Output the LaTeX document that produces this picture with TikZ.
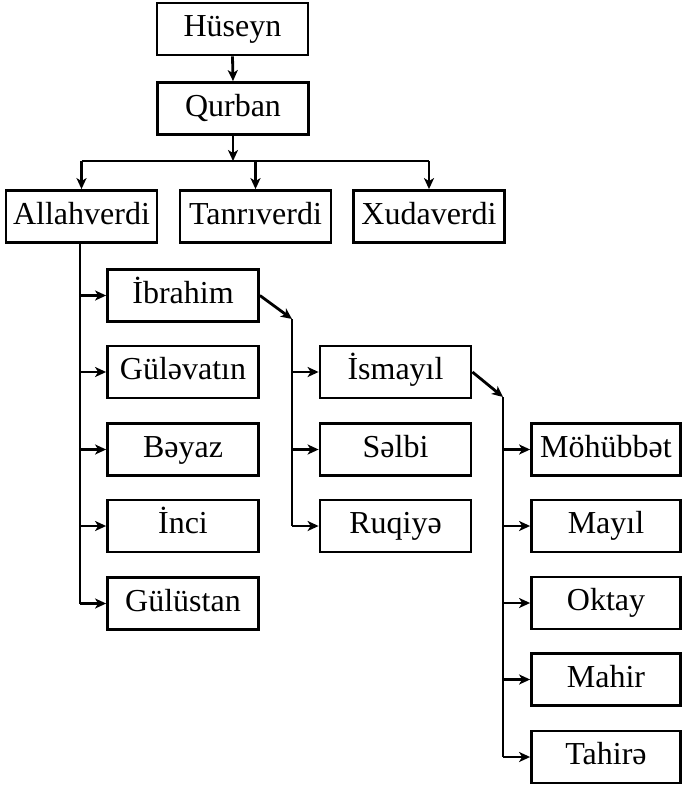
\documentclass[tikz,border=0pt]{standalone}
\usepackage{fontspec}
\setmainfont{Liberation Serif}
\usetikzlibrary{arrows.meta}
\tikzset{
  box/.style={draw, line width=2.8pt, minimum width=151pt, minimum height=52pt, inner sep=0pt,
    text height=21pt, text depth=6pt,
    font=\fontsize{32}{36}\selectfont, anchor=center},
  conn/.style={line width=2.8pt},
  arr/.style={conn, -{Stealth[length=11pt,width=10pt,inset=3pt]}}
}
\begin{document}
\begin{tikzpicture}[x=1pt,y=-1pt]
\useasboundingbox (0,0) rectangle (682,787);
% top
\node[box] (hus) at (232.5,29) {Hüseyn};
\node[box] (qur) at (233,108.5) {Qurban};
\node[box] (all) at (81.5,216.5) {Allahverdi};
\node[box] (tan) at (255.5,216.5) {Tanrıverdi};
\node[box] (xud) at (429,216.5) {Xudaverdi};
% left column
\node[box] (ibr) at (183,295.5) {İbrahim};
\node[box] (gul) at (183,372) {Güləvatın};
\node[box] (bey) at (183,449.5) {Bəyaz};
\node[box] (inc) at (183,526) {İnci};
\node[box] (gus) at (183,603.5) {Gülüstan};
% middle column
\node[box] (ism) at (395.5,372) {İsmayıl};
\node[box] (sel) at (395.5,449.5) {Səlbi};
\node[box] (ruq) at (395.5,526) {Ruqiyə};
% right column
\node[box, minimum width=149pt] (moh) at (606,449.5) {Möhübbət};
\node[box, minimum width=149pt] (may) at (606,526) {Mayıl};
\node[box, minimum width=149pt] (okt) at (606,603) {Oktay};
\node[box, minimum width=149pt] (mah) at (606,679.5) {Mahir};
\node[box, minimum width=149pt] (tah) at (606,757) {Tahirə};
% coordinates
\coordinate (bar) at (233,161);
\coordinate (barL) at (81.5,161);
\coordinate (barR) at (429,161);
\coordinate (tr1) at (80,243);
\coordinate (c1) at (292,319);
\coordinate (c2) at (503,397);
% connectors
\draw[arr] (hus.south) -- (qur.north);
\draw[arr] (qur.south) -- (bar);
\draw[conn] (barL) -- (barR);
\draw[arr] (barL) -- (all.north);
\draw[arr] (tan.north |- bar) -- (tan.north);
\draw[arr] (barR) -- (xud.north);
% Allahverdi children
\draw[conn] (tr1) -- (tr1 |- gus.west);
\foreach \n in {ibr,gul,bey,inc,gus}
  \draw[arr] (tr1 |- \n.west) -- (\n.west);
% Ibrahim children
\draw[arr] (ibr.east) -- (c1);
\draw[conn] (c1) -- (c1 |- ruq.west);
\foreach \n in {ism,sel,ruq}
  \draw[arr] (c1 |- \n.west) -- (\n.west);
% Ismayil children
\draw[arr] (ism.east) -- (c2);
\draw[conn] (c2) -- (c2 |- tah.west);
\foreach \n in {moh,may,okt,mah,tah}
  \draw[arr] (c2 |- \n.west) -- (\n.west);
\end{tikzpicture}
\end{document}
